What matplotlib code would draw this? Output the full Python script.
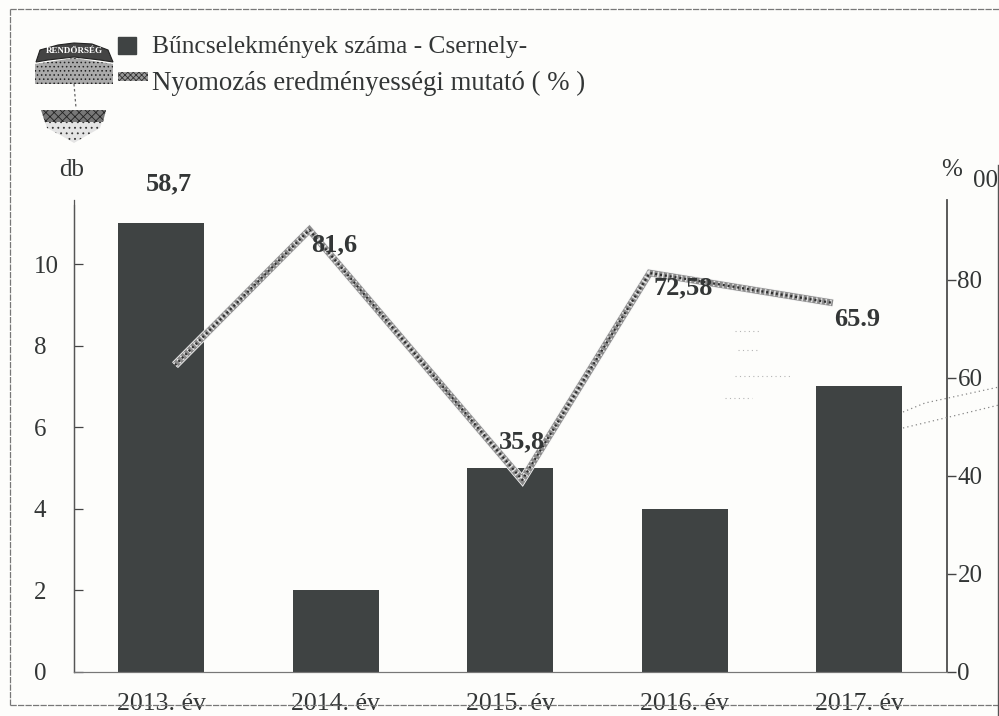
import matplotlib
matplotlib.use('Agg')
import matplotlib.pyplot as plt
import matplotlib.patheffects as pe
from matplotlib.patches import Polygon, Rectangle
from matplotlib.lines import Line2D

W, H = 999, 716

years = ['2013. év', '2014. év', '2015. év', '2016. év', '2017. év']
crime_counts = [11, 2, 5, 4, 7]
# the line is not centred on the bars in the original
line_x = [0.08, 0.85, 2.07, 2.80, 3.85]
line_vals = [62.6, 90.2, 39.2, 81.4, 75.3]
line_labels = ['58,7', '81,6', '35,8', '72,58', '65.9']
label_offsets = [(8, 181), (-1, -15), (12, 38), (-1, -15), (-2, -17)]
left_ticks = [0, 2, 4, 6, 8, 10]
right_ticks = [0, 20, 40, 60, 80]

legend_bar = 'Bűncselekmények száma - Csernely-'
legend_line = 'Nyomozás eredményességi mutató ( % )'

plt.rcParams['font.family'] = ['Liberation Serif', 'DejaVu Serif']
plt.rcParams['hatch.linewidth'] = 0.6
INK = '#333636'
BAR = '#3f4343'


def fx(x):
    return x / W


def fy(y):
    return 1 - y / H


def px(points):
    return [(fx(a), fy(b)) for a, b in points]


fig = plt.figure(figsize=(W / 100, H / 100), dpi=100, facecolor='#fdfdfb')
ax = fig.add_axes([fx(74), fy(672), fx(947) - fx(74), fy(200) - fy(672)])
ax.set_facecolor('none')
ax.set_xlim(-0.4986, 4.504)
ax.set_ylim(0, 11.57)

ax.bar(range(len(years)), crime_counts, width=0.493, color=BAR, zorder=2)
ax.set_xticks(range(len(years)))
ax.set_xticklabels(years, fontsize=18.5, color=INK)
ax.tick_params(axis='x', length=0, pad=15)
ax.set_yticks(left_ticks)
ax.tick_params(axis='y', direction='in', length=6.5, width=0.9, color='#444444',
               labelsize=18, labelcolor=INK, pad=29)
# left tick labels line up on their left edge
for t in ax.get_yticklabels():
    t.set_ha('left')

ax2 = ax.twinx()
ax2.set_ylim(0, 96.3)
ax2.set_yticks(right_ticks)
ax2.tick_params(axis='y', direction='out', length=6.5, width=1.0, color='#444444',
                labelsize=18, labelcolor=INK, pad=1)

for a in (ax, ax2):
    a.spines['top'].set_visible(False)
    a.spines['left'].set_color('#555555')
    a.spines['right'].set_color('#555555')
    a.spines['bottom'].set_color('#777777')
    a.spines['left'].set_linewidth(0.9)
    a.spines['right'].set_linewidth(1.1)
ax.spines['left'].set_bounds(0, 11.45)

# speckled line: light rim, grey core, then dots on top
ax2.plot(line_x, line_vals, color='#8a8a8a', lw=4.8, solid_joinstyle='miter',
         solid_capstyle='butt', zorder=4,
         path_effects=[pe.Stroke(linewidth=6.0, foreground='#f6f6f6'), pe.Normal()])
ax2.plot(line_x, line_vals, color='#e2e2e2', lw=4.0, dashes=(0.3, 0.55), zorder=5,
         dash_capstyle='butt')
ax2.plot(line_x, line_vals, color='#2e2e2e', lw=1.6, dashes=(0.9, 1.3), zorder=5,
         dash_capstyle='butt')

for i, lab in enumerate(line_labels):
    ax2.annotate(lab, xy=(i, line_vals[i]), xytext=label_offsets[i],
                 textcoords='offset pixels', ha='center', va='center',
                 fontsize=19, fontweight='bold', color=INK, zorder=6,
                 annotation_clip=False)

fig.text(fx(72), fy(170), 'db', fontsize=18, color=INK, ha='center', va='center')
fig.text(fx(952), fy(170), '%', fontsize=18, color=INK, ha='center', va='center')
fig.text(fx(985), fy(181), '00', fontsize=18, color=INK, ha='center', va='center')

# legend
fig.add_artist(Rectangle((fx(118), fy(54)), fx(18), fy(37) - fy(54), color=BAR))
fig.add_artist(Rectangle((fx(118), fy(81)), fx(30), fy(72) - fy(81), facecolor='#999999',
                         edgecolor='#333333', hatch='xxxxxx', lw=0))
fig.text(fx(152), fy(47), legend_bar, fontsize=18.3, color=INK, va='center')
fig.text(fx(152), fy(83), legend_line, fontsize=19.3, color=INK, va='center')

# police badge, top left
fig.add_artist(Polygon(px([(36, 62), (40, 50), (58, 45), (74, 43), (92, 44), (108, 50), (113, 62),
                           (100, 60), (74, 57), (48, 60)]),
                       facecolor='#444444', edgecolor='#222222', lw=0.8))
fig.text(fx(74), fy(51), 'RENDŐRSÉG', fontsize=6.5, fontweight='bold', color='white',
         ha='center', va='center')
fig.add_artist(Polygon(px([(35, 64), (74, 58), (113, 64), (113, 84), (35, 84)]),
                       facecolor='#aaaaaa', edgecolor='#222222', hatch='....', lw=0))
fig.add_artist(Line2D([fx(74), fx(76)], [fy(84), fy(108)], color='#666666', lw=0.9,
                      ls=(0, (2, 2))))
fig.add_artist(Polygon(px([(41, 110), (106, 110), (100, 128), (86, 136), (74, 143), (62, 136), (47, 128)]),
                       facecolor='#e4e4e4', edgecolor='#333333', hatch='...', lw=0))
fig.add_artist(Polygon(px([(41, 110), (106, 110), (103, 122), (45, 122)]),
                       facecolor='#777777', edgecolor='#222222', hatch='xxxx', lw=0))

# scanned page frame and stray marks
frame = dict(color='#777777', lw=0.9, ls=(0, (5, 1)))
fig.add_artist(Line2D([fx(10), fx(999)], [fy(9), fy(9)], **frame))
fig.add_artist(Line2D([fx(10), fx(10)], [fy(9), fy(705)], **frame))
fig.add_artist(Line2D([fx(10), fx(999)], [fy(705), fy(705)], **frame))
fig.add_artist(Line2D([fx(997.5), fx(997.5)], [fy(165), fy(716)], color='#555555', lw=1.0))
stray = dict(color='#888888', lw=0.9, ls=(0, (1, 2.5)))
fig.add_artist(Line2D([fx(903), fx(925), fx(999)], [fy(412), fy(403), fy(387)], **stray))
fig.add_artist(Line2D([fx(903), fx(945), fx(999)], [fy(428), fy(418), fy(405)], **stray))
specks = dict(color='#b5b5b5', lw=0.8, ls=(0, (1, 3)))
fig.add_artist(Line2D([fx(735), fx(760)], [fy(331), fy(331)], **specks))
fig.add_artist(Line2D([fx(738), fx(760)], [fy(350), fy(350)], **specks))
fig.add_artist(Line2D([fx(735), fx(790)], [fy(376), fy(376)], **specks))
fig.add_artist(Line2D([fx(725), fx(752)], [fy(398), fy(398)], **specks))

fig.savefig('out.png', dpi=100, facecolor=fig.get_facecolor())
